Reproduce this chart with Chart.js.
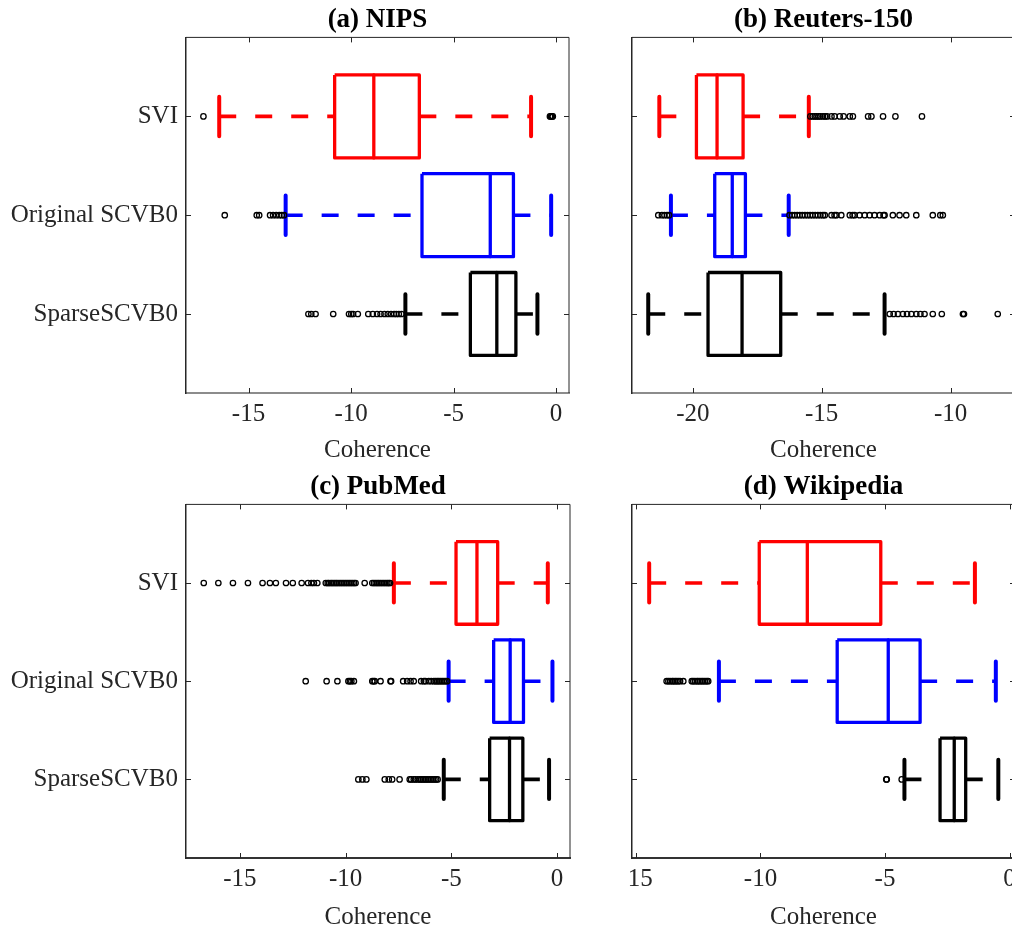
<!DOCTYPE html>
<html><head><meta charset="utf-8">
<script src="https://cdn.jsdelivr.net/npm/chart.js@4"></script>
<style>
html,body{margin:0;padding:0;background:#fff;overflow:hidden;width:1012px;height:926px;position:relative;}
canvas{position:absolute;display:block;}
</style></head><body>
<canvas id="c0" width="600" height="465" style="left:0;top:0"></canvas>
<canvas id="c1" width="400" height="465" style="left:628px;top:0"></canvas>
<canvas id="c2" width="600" height="465" style="left:0;top:467px"></canvas>
<canvas id="c3" width="400" height="465" style="left:628px;top:467px"></canvas>
<script>
// ---------------- DATA ----------------
const categories = ['SVI', 'Original SCVB0', 'SparseSCVB0'];

// (a) NIPS
const nipsLow  = [-16.43, -13.19, -7.35];
const nipsQ1   = [-10.80, -6.54, -4.18];
const nipsMed  = [-8.89, -3.21, -2.89];
const nipsQ3   = [-6.67, -2.08, -1.96];
const nipsHigh = [-1.22, -0.24, -0.91];
const nipsOutSVI    = [-17.2, -0.30, -0.25, -0.20, -0.16];
const nipsOutOrig   = [-16.16, -14.60, -14.48, -13.95, -13.80, -13.65, -13.50, -13.38, -13.27];
const nipsOutSparse = [-12.08, -11.94, -11.73, -10.87, -10.10, -9.99, -9.90, -9.67, -9.16, -8.94, -8.73, -8.56, -8.37, -8.21, -8.05, -7.90, -7.79, -7.67, -7.54];
const nipsTicks = [-15, -10, -5, 0];

// (b) Reuters-150
const reutLow  = [-21.30, -20.85, -21.73];
const reutQ1   = [-19.86, -19.15, -19.41];
const reutMed  = [-19.06, -18.47, -18.09];
const reutQ3   = [-18.05, -17.96, -16.59];
const reutHigh = [-15.50, -16.28, -12.56];
const reutOutSVI    = [-15.44, -15.35, -15.27, -15.20, -15.12, -15.05, -14.95, -14.87, -14.79, -14.62, -14.50, -14.30, -14.15, -13.91, -13.79, -13.20, -13.07, -12.62, -12.14, -11.11];
const reutOutOrig   = [-21.34, -21.20, -21.10, -21.00, -20.92,
  -16.25, -16.15, -16.05, -15.95, -15.85, -15.75, -15.65, -15.55, -15.45, -15.35, -15.25, -15.15, -15.05, -14.95, -14.88,
  -14.62, -14.50, -14.43, -14.24, -13.91, -13.80, -13.72, -13.53, -13.33, -13.14, -12.95, -12.75, -12.60, -12.56,
  -12.24, -11.98, -11.72, -11.33, -10.69, -10.40, -10.30];
const reutOutSparse = [-12.36, -12.21, -12.04, -11.85, -11.69, -11.52, -11.33, -11.17, -11.01, -10.69, -10.34, -9.52, -9.48, -8.17];
const reutTicks = [-20, -15, -10];

// (c) PubMed
const pubLow  = [-7.72, -5.13, -5.36];
const pubQ1   = [-4.78, -3.00, -3.19];
const pubMed  = [-3.79, -2.22, -2.25];
const pubQ3   = [-2.81, -1.59, -1.62];
const pubHigh = [-0.44, -0.22, -0.38];
const pubOutSVI    = [-16.71, -16.02, -15.33, -14.62, -13.93, -13.58, -13.30, -12.82, -12.50, -12.08, -11.78, -11.62, -11.50, -11.34,
  -10.94, -10.85, -10.79, -10.70, -10.63, -10.55, -10.47, -10.40, -10.32, -10.24, -10.16, -10.08, -10.00, -9.92, -9.84, -9.76, -9.68, -9.60, -9.53,
  -9.10, -8.74, -8.66, -8.58, -8.50, -8.43, -8.35, -8.27, -8.19, -8.11, -8.03, -7.96, -7.90];
const pubOutOrig   = [-11.89, -10.90, -10.39, -9.87, -9.80, -9.73, -9.61, -8.74, -8.68, -8.62, -8.35, -7.88, -7.85, -7.28, -7.09, -6.93, -6.78,
  -6.43, -6.30, -6.23, -6.07, -5.95, -5.83, -5.75, -5.67, -5.60, -5.52, -5.44, -5.36, -5.28, -5.20];
const pubOutSparse = [-9.40, -9.21, -9.02, -8.15, -7.96, -7.80, -7.45, -6.97, -6.90, -6.78, -6.70, -6.59, -6.50, -6.43, -6.35, -6.27, -6.20,
  -6.12, -6.04, -5.96, -5.88, -5.80, -5.72, -5.65];
const pubTicks = [-15, -10, -5, 0];

// (d) Wikipedia
const wikiLow  = [-14.47, -11.67, -4.22];
const wikiQ1   = [-10.05, -6.92, -2.79];
const wikiMed  = [-8.12, -4.87, -2.22];
const wikiQ3   = [-5.17, -3.59, -1.76];
const wikiHigh = [-1.39, -0.55, -0.45];
const wikiOutSVI    = [];
const wikiOutOrig   = [-13.77, -13.70, -13.63, -13.55, -13.50, -13.43, -13.37, -13.30, -13.23, -13.10, -12.76, -12.70, -12.63, -12.55, -12.50, -12.43, -12.36, -12.30, -12.23, -12.16, -12.10];
const wikiOutSparse = [-4.95, -4.93, -4.33];
const wikiTicks = [-15, -10, -5, 0];

// ---------------- STYLE ----------------
const FONT = 'Liberation Serif, Times New Roman, serif';
const groupColors = ['#ff0000', '#0000ff', '#000000'];
const BOX_HALF = 0.42, CAP_HALF = 0.2;

const matlabBox = {
  id: 'matlabBox',
  afterDraw(chart) {
    const {ctx, chartArea: a, scales: {x, y}} = chart;
    ctx.save();
    ctx.strokeStyle = '#262626';
    ctx.lineWidth = 1;
    ctx.beginPath();
    ctx.moveTo(a.left, a.top); ctx.lineTo(a.right, a.top); ctx.lineTo(a.right, a.bottom);
    x.ticks.forEach(t => {
      const px = Math.round(x.getPixelForValue(t.value)) + 0.5;
      ctx.moveTo(px, a.bottom); ctx.lineTo(px, a.bottom - 5);
      ctx.moveTo(px, a.top); ctx.lineTo(px, a.top + 5);
    });
    y.ticks.forEach(t => {
      const py = Math.round(y.getPixelForValue(t.value)) + 0.5;
      ctx.moveTo(a.left, py); ctx.lineTo(a.left + 5, py);
      ctx.moveTo(a.right, py); ctx.lineTo(a.right - 5, py);
    });
    ctx.stroke();
    ctx.restore();
  }
};

function lineDs(points, color, width, dash) {
  return {data: points, showLine: true, pointRadius: 0, pointHoverRadius: 0, borderColor: color,
    borderWidth: width, borderDash: dash || [], fill: false, tension: 0, borderJoinStyle: 'round', borderCapStyle: 'butt'};
}

function makeChart(id, cfg) {
  const datasets = [];
  cfg.out.forEach((arr, i) => {
    datasets.push({data: arr.map(v => ({x: v, y: i + 1})), showLine: false, pointRadius: 2.7, pointHoverRadius: 2.7,
      pointBorderWidth: 1.3, pointBorderColor: '#000', pointBackgroundColor: 'rgba(0,0,0,0)', pointStyle: 'circle'});
  });
  for (let i = 0; i < 3; i++) {
    const y = i + 1, c = groupColors[i];
    datasets.push(lineDs([{x: cfg.low[i], y: y - CAP_HALF}, {x: cfg.low[i], y: y + CAP_HALF}], c, 4));
    datasets.push(lineDs([{x: cfg.high[i], y: y - CAP_HALF}, {x: cfg.high[i], y: y + CAP_HALF}], c, 4));
    datasets.push(lineDs([{x: cfg.med[i], y: y - BOX_HALF}, {x: cfg.med[i], y: y + BOX_HALF}], c, 3.3));
    datasets.push(lineDs([
      {x: cfg.q1[i], y: y - BOX_HALF}, {x: cfg.q3[i], y: y - BOX_HALF}, {x: cfg.q3[i], y: y + BOX_HALF},
      {x: cfg.q1[i], y: y + BOX_HALF}, {x: cfg.q1[i], y: y - BOX_HALF}], c, 3.3));
    datasets.push(lineDs([{x: cfg.low[i], y}, {x: cfg.q1[i], y}], c, 3.6, [17, 19]));
    datasets.push(lineDs([{x: cfg.q3[i], y}, {x: cfg.high[i], y}], c, 3.6, [17, 19]));
  }
  new Chart(document.getElementById(id), {
    type: 'scatter',
    data: {datasets},
    plugins: [matlabBox],
    options: {
      responsive: false, animation: false, events: [],
      layout: {padding: {left: 0, right: cfg.padR, top: 0, bottom: 0}},
      plugins: {
        legend: {display: false}, tooltip: {enabled: false},
        title: {display: true, text: cfg.title, fullSize: false, color: '#000',
          font: {family: FONT, size: 27, weight: 'bold', lineHeight: 1.2}, padding: {top: 4, bottom: 1}}
      },
      scales: {
        x: {
          type: 'linear', position: 'bottom', min: cfg.xmin, max: cfg.xmax,
          afterBuildTicks: s => { s.ticks = cfg.xticks.map(v => ({value: v})); },
          afterFit: s => { s.height = cfg.xh; s.paddingLeft = 0; s.paddingRight = 0; },
          grid: {display: false, drawTicks: false},
          border: {display: true, color: cfg.xBorder, width: 2},
          ticks: {font: {family: FONT, size: 25}, color: '#262626', padding: 6, maxRotation: 0, autoSkip: false,
            callback: v => String(v)},
          title: {display: true, text: 'Coherence', color: '#262626', font: {family: FONT, size: 25, lineHeight: 1.2}, padding: 0}
        },
        y: {
          type: 'linear', position: 'left', min: 0.2, max: 3.8, reverse: true,
          afterBuildTicks: s => { s.ticks = [1, 2, 3].map(v => ({value: v})); },
          afterFit: s => { s.width = cfg.yw; },
          grid: {display: false, drawTicks: false},
          border: {display: true, color: '#262626', width: 1.5},
          ticks: {display: cfg.showY, font: {family: FONT, size: 25}, color: '#262626', padding: 8, autoSkip: false,
            callback: v => categories[v - 1]}
        }
      }
    }
  });
}

makeChart('c0', {title: '(a) NIPS', low: nipsLow, q1: nipsQ1, med: nipsMed, q3: nipsQ3, high: nipsHigh,
  out: [nipsOutSVI, nipsOutOrig, nipsOutSparse], xticks: nipsTicks, xmin: -18.05, xmax: 0.63,
  yw: 186, padR: 31, xh: 72, showY: true, xBorder: '#8c8c8c'});
makeChart('c1', {title: '(b) Reuters-150', low: reutLow, q1: reutQ1, med: reutMed, q3: reutQ3, high: reutHigh,
  out: [reutOutSVI, reutOutOrig, reutOutSparse], xticks: reutTicks, xmin: -22.36, xmax: -7.5,
  yw: 4, padR: 13, xh: 72, showY: false, xBorder: '#8c8c8c'});
makeChart('c2', {title: '(c) PubMed', low: pubLow, q1: pubQ1, med: pubMed, q3: pubQ3, high: pubHigh,
  out: [pubOutSVI, pubOutOrig, pubOutSparse], xticks: pubTicks, xmin: -17.55, xmax: 0.61,
  yw: 186, padR: 30, xh: 74, showY: true, xBorder: '#333333'});
makeChart('c3', {title: '(d) Wikipedia', low: wikiLow, q1: wikiQ1, med: wikiMed, q3: wikiQ3, high: wikiHigh,
  out: [wikiOutSVI, wikiOutOrig, wikiOutSparse], xticks: wikiTicks, xmin: -15.16, xmax: 0.22,
  yw: 4, padR: 13, xh: 74, showY: false, xBorder: '#333333'});
</script>
</body></html>
